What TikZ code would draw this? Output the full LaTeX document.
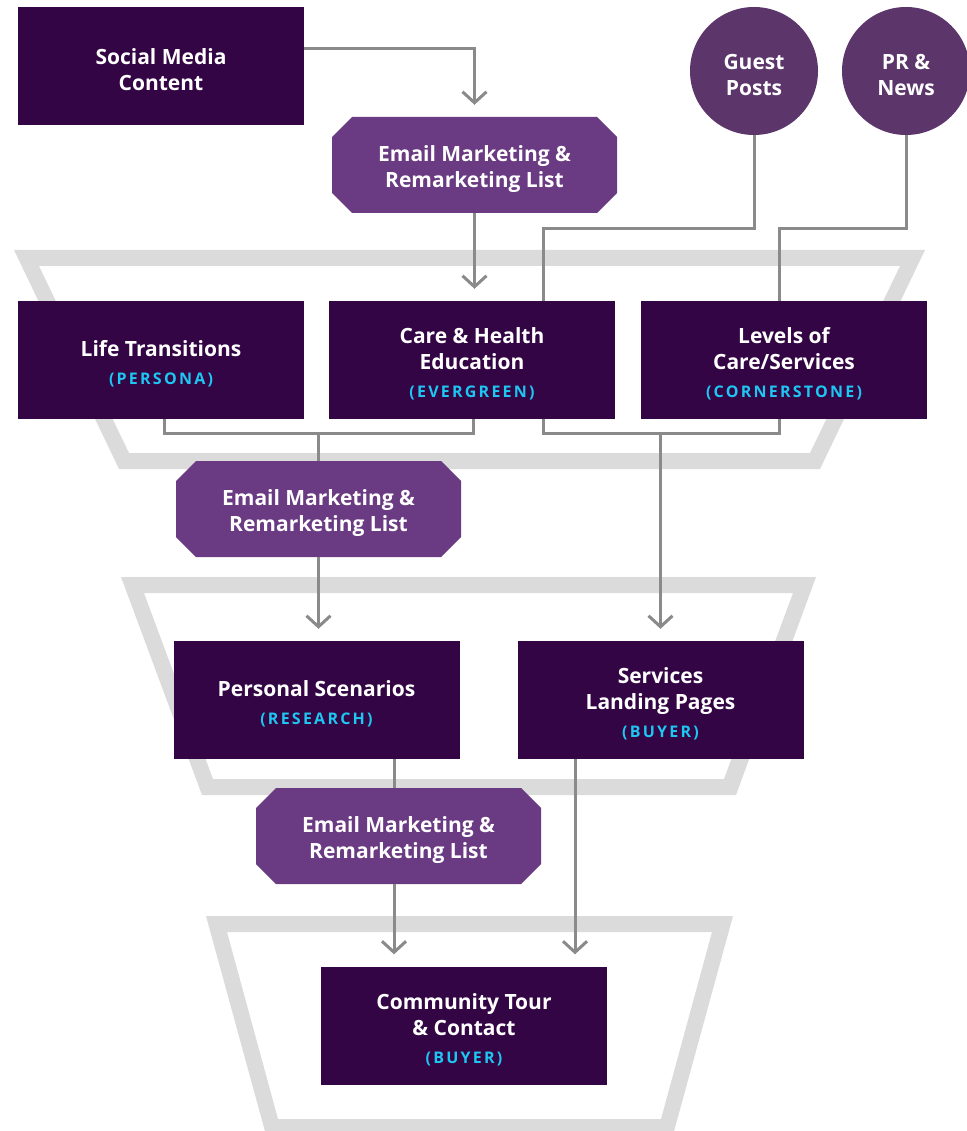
\documentclass[tikz,border=0pt]{standalone}
\usepackage{fontspec}
\setmainfont{Open Sans}
\newfontfamily\tagfont[LetterSpace=14]{Open Sans}
\usepackage{xcolor}
\usetikzlibrary{arrows.meta,positioning,shapes.misc}
\definecolor{boxplum}{HTML}{330544}
\definecolor{listpurple}{HTML}{6A3A82}
\definecolor{dotpurple}{HTML}{5C356B}
\definecolor{tagcyan}{HTML}{1EC6F2}
\definecolor{linegrey}{HTML}{8A8A8A}
\definecolor{funnelgrey}{HTML}{DBDBDB}
\newcommand{\kind}[1]{{\tagfont\bfseries\fontsize{16}{16}\selectfont\color{tagcyan}(#1)}}
\newcommand{\lineup}{\rule{0pt}{24pt}}
\tikzset{%
	label text/.style = {text=white, inner sep=0pt, align=center, font=\bfseries\fontsize{21}{26}\selectfont},
	topic/.style   = {rectangle, fill=boxplum, minimum width=286pt, minimum height=118pt, label text},
	listbox/.style = {chamfered rectangle, chamfered rectangle xsep=10pt, chamfered rectangle ysep=10pt, fill=listpurple, minimum width=285pt, minimum height=96pt, label text},
	source/.style  = {circle, fill=dotpurple, minimum size=128pt, label text},
	link/.style    = {draw=linegrey, line width=3pt},
	arrow/.style   = {link, -{Straight Barb[length=11pt,width=24pt,line width=3pt]}, shorten >=12pt},
	funnel/.style  = {fill=funnelgrey, even odd rule},
}
\begin{document}
\begin{tikzpicture}[x=1pt,y=-1pt]
		\useasboundingbox (0,0) rectangle (966,1131);
		\fill[funnel] (14,250) -- (925,250) -- (820,469) -- (119,469) -- cycle (39,266) -- (900,266) -- (810,453) -- (129,453) -- cycle;  % top funnel
		\fill[funnel] (121,577) -- (816,577) -- (736,795) -- (202,795) -- cycle (144,593) -- (793,593) -- (724,779) -- (213,779) -- cycle;  % middle funnel
		\fill[funnel] (206,916) -- (733,916) -- (673,1135) -- (266,1135) -- cycle (227,932) -- (712,932) -- (661,1119) -- (278,1119) -- cycle;  % bottom funnel
		\node[topic] (social) at (161,66) {\lineup Social Media\\Content};
		\node[listbox] (email1) at (474.5,165) {\lineup Email Marketing \&\\Remarketing List};
		\node[source] (guest) at (754,71) {\lineup Guest\\Posts};
		\node[source] (pr) at (906,71) {\lineup PR \&\\News};
		\node[topic] (life) at (161,360) {\lineup Life Transitions\\[2pt]\kind{PERSONA}};
		\node[topic] (care) at (472,360) {\lineup Care \& Health\\Education\\[2pt]\kind{EVERGREEN}};
		\node[topic] (levels) at (784,360) {\lineup Levels of\\Care/Services\\[2pt]\kind{CORNERSTONE}};
		\node[listbox] (email2) at (318.5,509) {\lineup Email Marketing \&\\Remarketing List};
		\node[topic] (personal) at (316.5,700) {\lineup Personal Scenarios\\[2pt]\kind{RESEARCH}};
		\node[topic] (services) at (660.5,700) {\lineup Services\\Landing Pages\\[2pt]\kind{BUYER}};
		\node[listbox] (email3) at (398.5,836) {\lineup Email Marketing \&\\Remarketing List};
		\node[topic] (tour) at (464,1025.5) {\lineup Community Tour\\\& Contact\\[2pt]\kind{BUYER}};
		\draw[arrow] (social.east |- 0,49) -| (email1.north);
		\draw[arrow] (email1.south) -- (email1.south |- care.north);
		\draw[link] (guest.south) |- (543,229) -- (care.north -| 543,0);  % guest posts feed
		\draw[link] (pr.south) |- (779,229) -- (levels.north -| 779,0);  % news feed
		\draw[link] (life.south -| 164,0) |- (473,433) -- (care.south -| 473,0);
		\draw[link] (email2.north |- 0,433) -- (email2.north);
		\draw[link] (care.south -| 543,0) |- (779,433) -- (levels.south -| 779,0);
		\draw[arrow] (services.north |- 0,433) -- (services.north);
		\draw[arrow] (email2.south) -- (email2.south |- personal.north);
		\draw[link] (personal.south -| 394,0) -- (email3.north -| 394,0);
		\draw[arrow] (email3.south -| 394,0) -- (tour.north -| 394,0);
		\draw[arrow] (services.south -| 575,0) -- (tour.north -| 575,0);
		\end{tikzpicture}
\end{document}
